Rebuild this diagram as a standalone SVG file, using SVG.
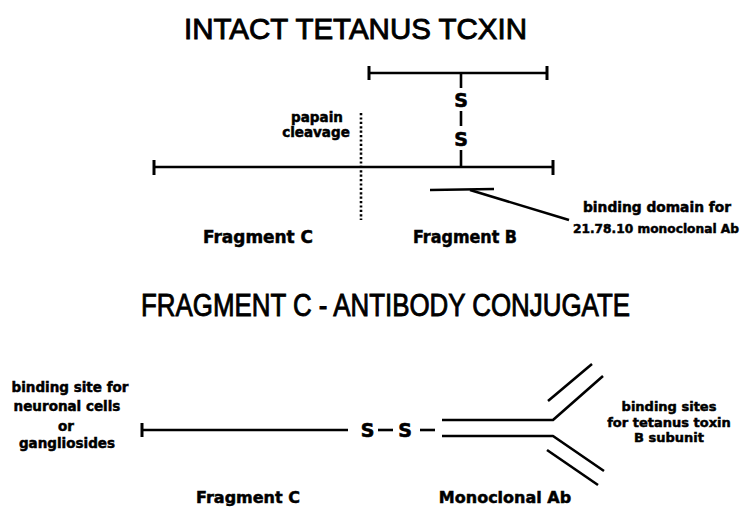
<svg xmlns="http://www.w3.org/2000/svg" width="747" height="509" viewBox="0 0 747 509">
<style>
.title{font-family:"Liberation Sans",Arial,sans-serif;font-weight:normal;fill:#000;stroke:#000;stroke-width:0.9}
.lbl{font-family:"DejaVu Sans",sans-serif;font-weight:bold;fill:#000;stroke:#000;stroke-width:0.5;text-anchor:middle}
.s{font-family:"DejaVu Sans",sans-serif;font-weight:bold;fill:#000;stroke:#000;stroke-width:0.6;text-anchor:middle;font-size:19px}
.ln{stroke:#000;stroke-width:2.6;fill:none;stroke-linecap:butt;stroke-linejoin:round}
.tick{stroke:#000;stroke-width:3;fill:none}
.dot{stroke:#000;stroke-width:2.6;fill:none;stroke-dasharray:2.2 2.2}
</style>
<rect width="747" height="509" fill="#fff"/>
<g id="title1"><text class="title" x="184" y="39" font-size="29" textLength="343" lengthAdjust="spacingAndGlyphs">INTACT TETANUS TCXIN</text></g>
<g id="title2"><text class="title" x="141" y="316" font-size="31" textLength="489" lengthAdjust="spacingAndGlyphs">FRAGMENT C - ANTIBODY CONJUGATE</text></g>

<g id="heavy-chain-top">
<line class="ln" x1="369" y1="73" x2="547" y2="73"/>
<line class="tick" x1="369" y1="66" x2="369" y2="80"/>
<line class="tick" x1="547" y1="66" x2="547" y2="80"/>
</g>
<g id="chain-bottom">
<line class="ln" x1="154" y1="167" x2="553" y2="167"/>
<line class="tick" x1="154" y1="160" x2="154" y2="175"/>
<line class="tick" x1="553" y1="160" x2="553" y2="175"/>
</g>
<g id="disulfide-top">
<text class="s" x="461" y="107">S</text>
<text class="s" x="461" y="146">S</text>
</g>
<g id="papain">
<text class="lbl" x="317" y="122" font-size="13.5">papain</text>
<text class="lbl" x="316" y="137" font-size="13.5">cleavage</text>
<line class="dot" x1="361" y1="113" x2="361" y2="220"/>
</g>
<g id="binding-domain">
<line class="ln" x1="430" y1="190" x2="494" y2="189"/>
<text class="lbl" x="657" y="212" font-size="13.5" textLength="148" lengthAdjust="spacingAndGlyphs">binding domain for</text>
<text class="lbl" x="656" y="233" font-size="12.5" textLength="166" lengthAdjust="spacingAndGlyphs">21.78.10 monoclonal Ab</text>
</g>
<g id="frag-labels-top">
<text class="lbl" x="258" y="243" font-size="17" textLength="110" lengthAdjust="spacingAndGlyphs">Fragment C</text>
<text class="lbl" x="465" y="243" font-size="17" textLength="104" lengthAdjust="spacingAndGlyphs">Fragment B</text>
</g>

<g id="fragment-c">
<line class="ln" x1="142" y1="430" x2="348" y2="430"/>
<line class="tick" x1="142" y1="423" x2="142" y2="437"/>
</g>
<g id="left-label">
<text class="lbl" x="70" y="392" font-size="13.5">binding site for</text>
<text class="lbl" x="67" y="411" font-size="13.5">neuronal cells</text>
<text class="lbl" x="66" y="431" font-size="13.5">or</text>
<text class="lbl" x="67" y="448" font-size="13.5">gangliosides</text>
</g>
<g id="disulfide-bottom">
<text class="s" x="367.5" y="437" font-size="20">S</text>
<text class="s" x="405" y="437" font-size="20">S</text>
</g>
<g id="antibody">
<polyline class="ln" points="442,420 553,420 603,376"/>
<polyline class="ln" points="442,436 553,436 604,471"/>
<line class="ln" x1="548" y1="401" x2="592" y2="364"/>
<line class="ln" x1="547" y1="450" x2="598" y2="485"/>
</g>
<g id="right-label">
<text class="lbl" x="669" y="411" font-size="13">binding sites</text>
<text class="lbl" x="669" y="427" font-size="13">for tetanus toxin</text>
<text class="lbl" x="669" y="442" font-size="13">B subunit</text>
</g>
<g id="frag-labels-bottom">
<text class="lbl" x="248" y="503" font-size="16">Fragment C</text>
<text class="lbl" x="505" y="503" font-size="16">Monoclonal Ab</text>
</g>

<g id="connectors">
<line class="ln" x1="461" y1="73" x2="461" y2="88"/>
<line class="ln" x1="461" y1="111" x2="461" y2="126"/>
<line class="ln" x1="461" y1="150" x2="461" y2="167"/>
<line class="ln" x1="470" y1="190" x2="569" y2="220"/>
<line class="ln" x1="378" y1="430" x2="393" y2="430"/>
<line class="ln" x1="420" y1="430" x2="435" y2="430"/>
</g>
</svg>
